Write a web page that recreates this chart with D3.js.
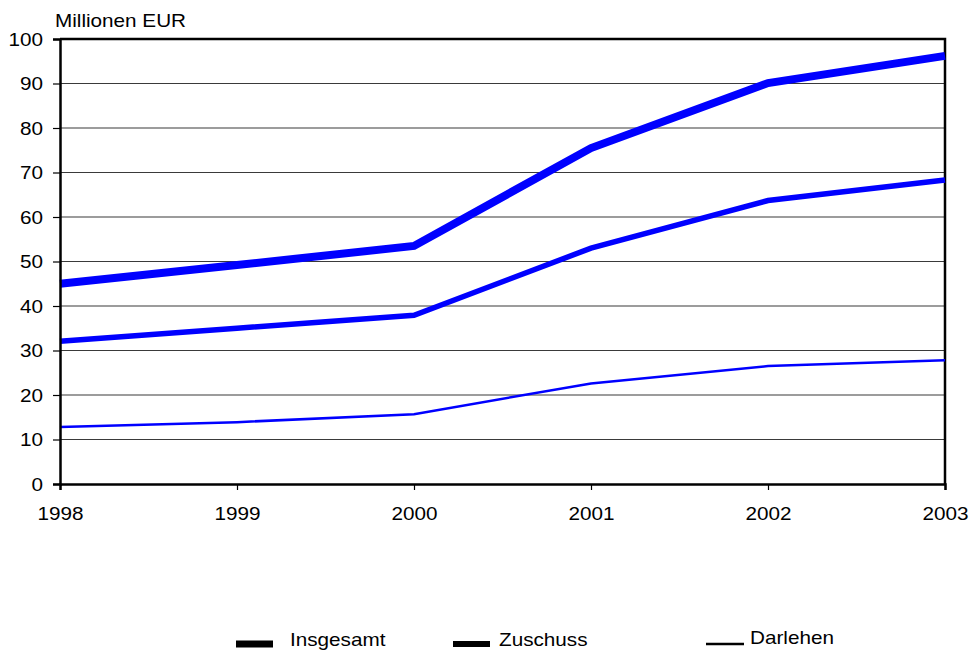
<!DOCTYPE html>
<html>
<head>
<meta charset="utf-8">
<script src="https://cdn.jsdelivr.net/npm/d3@7"></script>
<style>
  body { margin: 0; background: #fff; }
  svg text { font-family: "Liberation Sans", Arial, sans-serif; fill: #000; }
</style>
</head>
<body>
<div id="chart"></div>
<script>
const years = ["1998", "1999", "2000", "2001", "2002", "2003"];
const insgesamt = [45.0, 49.2, 53.5, 75.5, 90.1, 96.2];
const zuschuss = [32.1, 35.0, 37.9, 53.0, 63.7, 68.3];
const darlehen = [12.8, 13.9, 15.7, 22.6, 26.5, 27.8];
const yTicks = [0, 10, 20, 30, 40, 50, 60, 70, 80, 90, 100];
const seriesNames = ["Insgesamt", "Zuschuss", "Darlehen"];

const W = 972, H = 652;
const plotLeft = 60, plotRight = 945, plotTop = 39, plotBottom = 484;
const stretch = "scale(1.15,1)";

const svg = d3.select("#chart")
  .append("svg")
  .attr("width", W)
  .attr("height", H);

const x = d3.scalePoint()
  .domain(years)
  .range([plotLeft, plotRight]);

const y = d3.scaleLinear()
  .domain([0, 100])
  .range([plotBottom, plotTop]);

// gridlines
svg.append("g")
  .selectAll("line")
  .data(yTicks.filter(d => d > 0 && d < 100))
  .enter()
  .append("line")
  .attr("x1", plotLeft)
  .attr("x2", plotRight)
  .attr("y1", d => y(d))
  .attr("y2", d => y(d))
  .attr("stroke", "#3a3a3a")
  .attr("stroke-width", 1.2);

// frame top + right
svg.append("path")
  .attr("d", `M${plotLeft},${y(100)}H${plotRight}V${plotBottom}`)
  .attr("fill", "none")
  .attr("stroke", "#000")
  .attr("stroke-width", 2.5);

// series
const series = [
  { name: seriesNames[0], values: insgesamt, width: 8 },
  { name: seriesNames[1], values: zuschuss, width: 5.5 },
  { name: seriesNames[2], values: darlehen, width: 2.5 }
];

const line = d3.line()
  .x((d, i) => x(years[i]))
  .y(d => y(d));

svg.append("g")
  .selectAll("path")
  .data(series)
  .enter()
  .append("path")
  .attr("d", d => line(d.values))
  .attr("fill", "none")
  .attr("stroke", "#0000ff")
  .attr("stroke-width", d => d.width);

// y axis
const yAxis = svg.append("g")
  .attr("transform", `translate(${plotLeft},0)`)
  .call(d3.axisLeft(y).tickValues(yTicks).tickSize(7).tickPadding(0));
yAxis.select(".domain").attr("stroke", "#000").attr("stroke-width", 2.5);
yAxis.selectAll(".tick line").attr("stroke", "#000").attr("stroke-width", 1.2);
yAxis.selectAll(".tick text")
  .attr("x", -17 / 1.15)
  .attr("dy", "0.36em")
  .attr("transform", stretch)
  .style("font-size", "18px");

// x axis
const xAxis = svg.append("g")
  .attr("transform", `translate(0,${plotBottom})`)
  .call(d3.axisBottom(x).tickSize(6).tickPadding(0));
xAxis.select(".domain").attr("stroke", "#000").attr("stroke-width", 2.5);
xAxis.selectAll(".tick line").attr("stroke", "#000").attr("stroke-width", 1.2);
xAxis.selectAll(".tick text")
  .attr("y", 36)
  .attr("dy", 0)
  .attr("transform", stretch)
  .style("font-size", "18px");

// unit label
svg.append("text")
  .attr("transform", `translate(55,27) ${stretch}`)
  .style("font-size", "18px")
  .text("Millionen EUR");

// legend
const legendPos = [
  { sx: 236, sw: 37, tx: 290, h: 7 },
  { sx: 453, sw: 37, tx: 499, h: 6 },
  { sx: 706, sw: 38, tx: 750, h: 2.5 }
];

const legend = svg.append("g")
  .selectAll("g")
  .data(series)
  .enter()
  .append("g");

legend.append("rect")
  .attr("x", (d, i) => legendPos[i].sx)
  .attr("y", (d, i) => 644 - legendPos[i].h / 2)
  .attr("width", (d, i) => legendPos[i].sw)
  .attr("height", (d, i) => legendPos[i].h)
  .attr("fill", "#000");

legend.append("text")
  .attr("transform", (d, i) => `translate(${legendPos[i].tx},${i === 2 ? 644 : 646}) ${stretch}`)
  .style("font-size", "18px")
  .text(d => d.name);
</script>
</body>
</html>
